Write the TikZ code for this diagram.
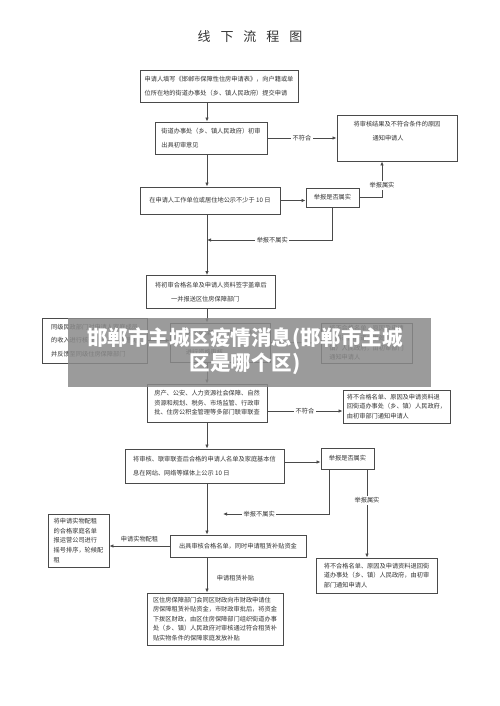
\documentclass[tikz,border=0pt]{standalone}
\usepackage{fontspec}
\setmainfont{Noto Sans CJK SC}
\usetikzlibrary{arrows.meta}
\definecolor{linegray}{HTML}{4A4A4A}
\definecolor{textgray}{HTML}{333333}
\definecolor{bannergray}{HTML}{8A8A8A}

\begin{document}
\begin{tikzpicture}[x=1pt, y=-1pt,
    box/.style={draw=linegray, line width=0.9pt, text=textgray, inner sep=0pt, align=left,
        font=\fontsize{6.2}{14.5}\selectfont},
    tbox/.style={box, font=\fontsize{6.2}{9.6}\selectfont},
    arr/.style={draw=linegray, line width=0.9pt, -{Latex[length=4pt,width=3.5pt]}},
    lbl/.style={fill=white, text=textgray, inner sep=1.5pt, font=\fontsize{6.2}{7}\selectfont}]
    \fill[white] (0,0) rectangle (500,706);
    \useasboundingbox (0,0) rectangle (500,706);
    \coordinate (spine) at (207,0);

    \node[text=textgray, font=\fontsize{13}{13}\selectfont] (title) at (250,37)
        {线\hspace{10pt}下\hspace{10pt}流\hspace{10pt}程\hspace{10pt}图};

    % upper part
    \node[box, minimum width=158pt, minimum height=32pt] (apply) at (219,86)
        {申请人填写《邯郸市保障性住房申请表》，向户籍或单\\位所在地的街道办事处（乡、镇人民政府）提交申请};
    \node[box, minimum width=112pt, minimum height=32pt] (prelim) at (211,138)
        {街道办事处（乡、镇人民政府）初审\\出具初审意见};
    \node[box, minimum width=120pt, minimum height=46pt] (notify) at (397,138)
        {将审核结果及不符合条件的原因\\\hspace*{19pt}通知申请人\\~};
    \node[box, minimum width=140pt, minimum height=27pt] (publicity) at (210,200.5)
        {在申请人工作单位或居住地公示不少于 10 日};
    \node[box, minimum width=53pt, minimum height=19pt] (report) at (332.5,197.5)
        {举报是否属实};
    \node[box, minimum width=129pt, minimum height=33pt] (submit) at (211,292)
        {将初审合格名单及申请人资料签字盖章后\\\hspace*{16pt}一并报送区住房保障部门};
    \coordinate (backa) at (207,240);

    \draw[arr] (apply.south -| spine) -- (prelim.north -| spine);
    \draw[arr] (prelim) -- (notify) node[lbl, midway] {不符合};
    \draw[arr] (prelim.south -| spine) -- (publicity.north -| spine);
    \draw[arr] (publicity.east) -- (publicity.east -| report.west);
    \draw[arr] (report.east) -| ([xshift=-15pt]notify.south) node[lbl, pos=0.67] {举报属实};
    \draw[arr] (report.south) |- (backa) node[lbl, pos=0.74] {举报不属实};
    \draw[arr] (publicity.south -| spine) -- (submit.north -| spine);

    % district review
    \node[box, minimum width=105pt, minimum height=45pt, font=\fontsize{6.2}{13.5}\selectfont] (civil) at (94.5,340.5)
        {同级民政部门对申请人家庭成员\\的收入进行核查，出具核查意见\\并反馈至同级住房保障部门};
    \node[tbox, minimum width=100pt, minimum height=39pt] (district) at (220,342.5)
        {区住房保障部门对申请人\\\\进行资格审核};
    \node[tbox, minimum width=91pt, minimum height=40pt] (reject) at (366.5,343)
        {将不合格名单、原因及申请\\资料退回街道办事处（乡、\\镇）人民政府，由初审部门\\通知申请人};
    \draw[arr] (submit.south -| spine) -- (district.north -| spine);
    \draw[arr] (civil.east) -- (civil.east -| district.west);
    \draw[arr] (district) -- (reject);

    % lower part
    \node[tbox, minimum width=120pt, minimum height=38pt] (joint) at (207,403)
        {房产、公安、人力资源社会保障、自然\\资源和规划、税务、市场监管、行政审\\批、住房公积金管理等多部门联审联查};
    \node[tbox, minimum width=107pt, minimum height=33pt] (rejectb) at (396.5,406.5)
        {将不合格名单、原因及申请资料退\\回街道办事处（乡、镇）人民政府，\\由初审部门通知申请人};
    \node[box, minimum width=159pt, minimum height=34pt, font=\fontsize{6.2}{14}\selectfont] (publish) at (204.5,466)
        {将审核、联审联查后合格的申请人名单及家庭基本信\\息在网站、网络等媒体上公示 10 日};
    \node[box, minimum width=53pt, minimum height=21pt] (reportb) at (347.5,458.5)
        {举报是否属实};
    \node[tbox, minimum width=121pt, minimum height=35pt] (rejectc) at (376.5,575.5)
        {将不合格名单、原因及申请资料退回街\\道办事处（乡、镇）人民政府，由初审\\部门通知申请人};
    \node[box, minimum width=136pt, minimum height=22pt] (qualified) at (238,546)
        {出具审核合格名单，同时申请租赁补贴资金};
    \node[tbox, minimum width=61pt, minimum height=53pt] (housing) at (78.5,540.5)
        {将申请实物配租\\的合格家庭名单\\报运营公司进行\\摇号排序，轮候配\\租};
    \node[tbox, minimum width=136pt, minimum height=52pt] (subsidy) at (215,619)
        {区住房保障部门会同区财政向市财政申请住\\房保障租赁补贴资金，市财政审批后，将资金\\下拨区财政，由区住房保障部门组织街道办事\\处（乡、镇）人民政府对审核通过符合租赁补\\贴实物条件的保障家庭发放补贴};
    \coordinate (backb) at (223,514);

    \draw[arr] (district.south -| spine) -- (joint.north -| spine);
    \draw[arr] ([yshift=-8pt]joint.east) -- ([yshift=-8pt]joint.east -| rejectb.west) node[lbl, midway] {不符合};
    \draw[arr] (joint.south -| spine) -- (publish.north -| spine);
    \draw[arr] ([yshift=4pt]publish.east) -- ([yshift=4pt]publish.east -| reportb.west);
    \draw[arr] ([xshift=-18pt]reportb.south) |- (backb) node[lbl, pos=0.83] {举报不属实};
    \draw[arr] ([xshift=19.5pt]reportb.south) -- ([xshift=19.5pt]reportb.south |- rejectc.north)
        node[lbl, pos=0.35] {举报属实};
    \draw[arr] (publish.south -| spine) -- (qualified.north -| spine);
    \draw[arr] (qualified.west) -- (qualified.west -| housing.east) node[lbl, midway, above=2pt] {申请实物配租};
    \draw[arr] (qualified.south -| spine) -- (subsidy.north -| spine) node[lbl, pos=0.6, right=8pt] {申请租赁补贴};

    % banner over the middle
    \fill[bannergray, opacity=0.85] (68,318) rectangle (431,387);
    \node[text=white, align=center, font=\bfseries\fontsize{20.5}{25}\selectfont] (banner) at (245,351)
        {邯郸市主城区疫情消息(邯郸市主城\\区是哪个区)};
\end{tikzpicture}
\end{document}
